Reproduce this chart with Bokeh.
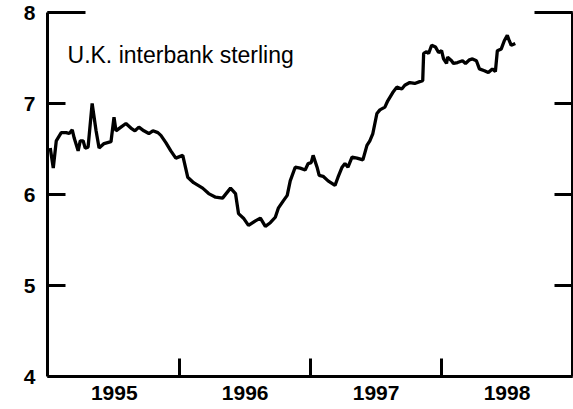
from bokeh.plotting import figure
from bokeh.models import Range1d, FixedTicker, LinearAxis, Label
from bokeh.embed import file_html
from bokeh.resources import INLINE

# Decimal-year dates and rate values (percent)
dates = [1995.011, 1995.034, 1995.057, 1995.095, 1995.133, 1995.156, 1995.179, 1995.194,
         1995.224, 1995.240, 1995.262, 1995.278, 1995.300, 1995.331, 1995.361, 1995.384,
         1995.422, 1995.475, 1995.498, 1995.513, 1995.551, 1995.589, 1995.627, 1995.658,
         1995.688, 1995.726, 1995.764, 1995.795, 1995.833, 1995.856, 1995.894, 1995.932,
         1995.970, 1996.023, 1996.061, 1996.106, 1996.175, 1996.221, 1996.274, 1996.327,
         1996.388, 1996.426, 1996.449, 1996.487, 1996.525, 1996.578, 1996.616, 1996.654,
         1996.692, 1996.730, 1996.753, 1996.791, 1996.821, 1996.844, 1996.882, 1996.920,
         1996.958, 1996.981, 1997.004, 1997.019, 1997.049, 1997.065, 1997.095, 1997.133,
         1997.186, 1997.209, 1997.240, 1997.262, 1997.285, 1997.316, 1997.354, 1997.399,
         1997.430, 1997.452, 1997.475, 1997.506, 1997.529, 1997.567, 1997.589, 1997.627,
         1997.658, 1997.696, 1997.719, 1997.757, 1997.795, 1997.833, 1997.856, 1997.863,
         1997.886, 1997.901, 1997.924, 1997.954, 1997.977, 1998.000, 1998.015, 1998.038,
         1998.046, 1998.076, 1998.091, 1998.122, 1998.160, 1998.183, 1998.213, 1998.236,
         1998.266, 1998.289, 1998.327, 1998.357, 1998.388, 1998.411, 1998.426, 1998.456,
         1998.479, 1998.502, 1998.517, 1998.532, 1998.563]
rates = [6.51, 6.29, 6.59, 6.68, 6.68, 6.67, 6.71, 6.62,
         6.48, 6.59, 6.59, 6.51, 6.52, 7.00, 6.70, 6.51,
         6.56, 6.58, 6.85, 6.70, 6.74, 6.78, 6.73, 6.70,
         6.74, 6.70, 6.67, 6.70, 6.68, 6.65, 6.57, 6.48,
         6.40, 6.43, 6.19, 6.13, 6.07, 6.01, 5.97, 5.96,
         6.07, 6.01, 5.79, 5.74, 5.66, 5.71, 5.74, 5.65,
         5.69, 5.75, 5.85, 5.93, 5.99, 6.15, 6.30, 6.29,
         6.27, 6.34, 6.35, 6.43, 6.30, 6.21, 6.20, 6.15,
         6.10, 6.19, 6.30, 6.34, 6.30, 6.41, 6.40, 6.38,
         6.54, 6.59, 6.67, 6.89, 6.93, 6.96, 7.03, 7.12,
         7.18, 7.16, 7.20, 7.23, 7.22, 7.24, 7.25, 7.55,
         7.57, 7.55, 7.64, 7.62, 7.56, 7.58, 7.49, 7.44,
         7.51, 7.47, 7.44, 7.45, 7.47, 7.44, 7.48, 7.49,
         7.47, 7.38, 7.36, 7.34, 7.38, 7.35, 7.58, 7.60,
         7.69, 7.75, 7.69, 7.64, 7.66]

y_ticks = [4, 5, 6, 7, 8]
year_bounds = [1996, 1997, 1998]
year_centers = [1995.5, 1996.5, 1997.5, 1998.5]
year_labels = ["1995", "1996", "1997", "1998"]
title_text = "U.K. interbank sterling"

FONT = "Liberation Sans"

p = figure(width=573, height=409, output_backend="svg", toolbar_location=None,
           x_range=Range1d(1994.99, 1999.0), y_range=Range1d(4, 8),
           x_axis_location=None, y_axis_location=None,
           min_border_left=47, min_border_right=1, min_border_top=12, min_border_bottom=33)
p.outline_line_color = None
p.xgrid.visible = False
p.ygrid.visible = False
p.background_fill_color = "white"
p.border_fill_color = "white"

def style_y(ax, labels):
    ax.ticker = FixedTicker(ticks=y_ticks, minor_ticks=[y_ticks[-1]])
    ax.axis_line_width = 3
    ax.axis_line_color = "black"
    ax.major_tick_in = 18
    ax.major_tick_out = 0
    ax.major_tick_line_width = 3
    ax.minor_tick_in = 38
    ax.minor_tick_out = 0
    ax.minor_tick_line_width = 3
    ax.major_label_text_font = FONT
    ax.major_label_text_font_size = "21px"
    ax.major_label_text_font_style = "bold"
    ax.major_label_text_color = "black"
    ax.major_label_standoff = 12
    if not labels:
        ax.major_label_overrides = {t: "" for t in y_ticks}
        ax.major_label_standoff = 0

left = LinearAxis()
style_y(left, True)
p.add_layout(left, "left")
right = LinearAxis()
style_y(right, False)
p.add_layout(right, "right")

bottom = LinearAxis()
bottom.ticker = FixedTicker(ticks=year_centers, minor_ticks=year_bounds)
bottom.major_label_overrides = {c: l for c, l in zip(year_centers, year_labels)}
bottom.axis_line_width = 3
bottom.axis_line_color = "black"
bottom.major_tick_in = 0
bottom.major_tick_out = 0
bottom.minor_tick_in = 18
bottom.minor_tick_out = 0
bottom.minor_tick_line_width = 3
bottom.major_label_text_font = FONT
bottom.major_label_text_font_size = "21px"
bottom.major_label_text_font_style = "bold"
bottom.major_label_text_color = "black"
bottom.major_label_standoff = 9
p.add_layout(bottom, "below")

p.line(dates, rates, line_color="black", line_width=3.3)

p.add_layout(Label(x=1995.143, y=7.53, text=title_text, text_font=FONT,
                   text_font_size="23px", text_color="black",
                   text_baseline="middle", text_align="left"))

open("out.html", "w").write(file_html(p, INLINE))
